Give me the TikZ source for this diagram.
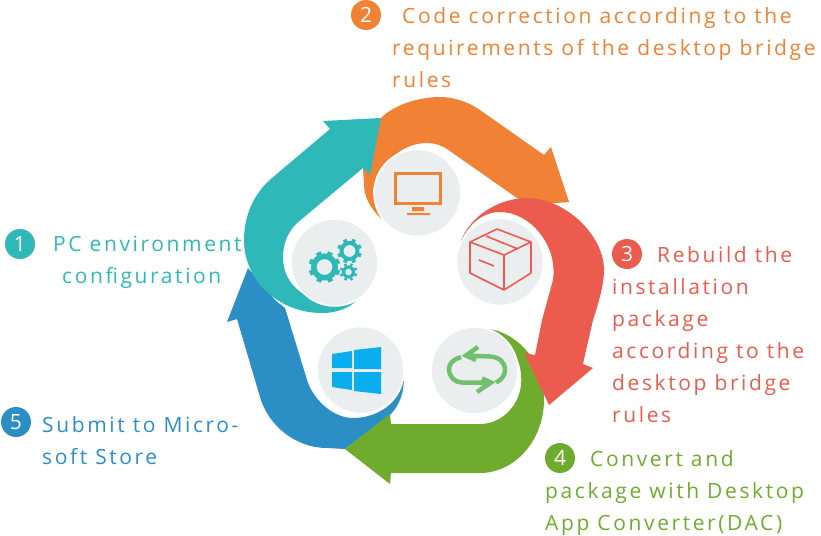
\documentclass[tikz,border=0pt]{standalone}
\usepackage{fontspec}
\setmainfont[LetterSpace=12.4]{Open Sans}
\usepackage{xcolor}
\definecolor{tealc}{HTML}{2FB8B8}
\definecolor{orangec}{HTML}{F18134}
\definecolor{redc}{HTML}{EB5B4E}
\definecolor{greenc}{HTML}{6FAC2E}
\definecolor{bluec}{HTML}{2B8FC6}
\definecolor{winc}{HTML}{0AADEE}
\definecolor{loopc}{HTML}{72BF6F}
\definecolor{discc}{HTML}{EBEEEF}
\tikzset{
  disc/.style={circle, fill=discc, draw=white, line width=1.5pt, minimum size=87pt, inner sep=0pt},
  badge/.style={circle, minimum size=30pt, inner sep=0pt, text=white, font=\fontsize{21}{21}\selectfont},
  caption/.style={anchor=north west, align=left, inner sep=0pt, font=\fontsize{21}{32}\selectfont}
}
\newcommand{\gearicon}[4]{%
  \draw[tealc, line width=#3-#4] (#1,#2) circle ({(#3+#4)/2});
  \foreach \ang in {0,45,...,315}
    \draw[tealc, line width=#3*0.38] (#1,#2) ++(\ang+22:#3-1) -- ++(\ang+22:3.4);
}

\begin{document}
\begin{tikzpicture}[x=1pt,y=-1pt]
\useasboundingbox (0,0) rectangle (821,535);
\fill[bluec] (248,268) -- (227,322) -- (237,319) -- (260,397) .. controls (268,425) and (295,448) .. (327,448)
  -- (345,449) -- (390,415) .. controls (400,405) and (404,392) .. (404,377)
  .. controls (402,400) and (380,418) .. (353,418) .. controls (335,418) and (316,403) .. (308,383)
  -- (285,308) -- (275,300) -- cycle;
\fill[greenc] (345,449) -- (390,414) -- (391,424) -- (480,424) .. controls (505,424) and (524,400) .. (521,375)
  .. controls (520,355) and (505,335) .. (487,329) .. controls (510,330) and (544,355) .. (544,400)
  .. controls (544,440) and (515,473) .. (480,473) -- (391,473) -- (390,484) -- cycle;
\fill[orangec] (381,118) .. controls (395,104) and (420,97) .. (440,97) .. controls (455,97) and (470,103) .. (480,110)
  -- (544,155) -- (551,147) -- (569,202) -- (530,205) -- (517,198) -- (447,149)
  .. controls (425,134) and (385,147) .. (373,190) .. controls (375,205) and (380,215) .. (388,224)
  .. controls (375,215) and (364,200) .. (364,185) -- (363,168) -- cycle;
\fill[redc] (460,243) .. controls (470,215) and (500,198) .. (527,198) .. controls (565,198) and (604,235) .. (604,270)
  .. controls (604,285) and (598,305) .. (593,320) -- (583,364) -- (593,368) -- (549,405) -- (524,353) -- (535,355)
  -- (542,320) -- (553,280) .. controls (558,245) and (530,212) .. (500,212) .. controls (482,212) and (468,225) .. (460,243) -- cycle;
\fill[tealc] (381,118) -- (323,121) -- (330,129) -- (272,178) .. controls (252,195) and (244,218) .. (244,240)
  .. controls (244,280) and (278,313) .. (322,313) .. controls (337,313) and (350,308) .. (358,299)
  .. controls (335,310) and (283,300) .. (283,257) .. controls (283,243) and (288,232) .. (297,223)
  -- (363,168) -- (370,175) -- cycle;
\node[disc] (gears) at (334.5,262.5) {};
\node[disc] (screen) at (417.5,193) {};
\node[disc] (box) at (500,262) {};
\node[disc] (swap) at (474.5,370.5) {};
\node[disc] (win) at (360.5,370) {};
\gearicon{324.5}{267}{13.5}{8}
\gearicon{349.5}{251}{10}{6}
\gearicon{348.5}{272}{6.5}{3.5}
\draw[orangec, line width=3pt] (395.5,173.5) rectangle (440.5,203);
\fill[orangec] (412,207) rectangle (424,211) (407,213) rectangle (430,215);
\draw[redc, line width=1.6pt, line join=round] (470,242) -- (497,229) -- (531,242) -- (504,255) -- cycle
  (470,242) -- (470,273) -- (504,290) -- (531,273) -- (531,242) (504,255) -- (504,290)
  (486,236) -- (518,249) (479,260) -- (494,266);
\draw[loopc, line width=4.5pt] (478,347) -- (466,355.5) -- (476,360) (466,355.5) -- (490,356.5) .. controls (499,357) and (505,362) .. (505,370) .. controls (505,376) and (501,380) .. (496,382.5)
  (461,357) .. controls (454,359) and (449,363) .. (449,369) .. controls (449,377) and (455,382.5) .. (462,382.5) -- (491,382.5) (482,378.5) -- (491,382.5) -- (477,392);
\fill[winc] (332,354) -- (352,351) -- (352,368) -- (332,368) -- cycle
  (354,350) -- (381,347) -- (381,369) -- (354,369) -- cycle
  (332,372) -- (352,372) -- (352,390) -- (332,387) -- cycle
  (354,372) -- (381,372) -- (381,394) -- (354,391) -- cycle;
\node[badge, fill=tealc] (n1) at (20,244) {1};
\node[badge, fill=orangec] (n2) at (366,15) {2};
\node[badge, fill=redc] (n3) at (627,254) {3};
\node[badge, fill=greenc] (n4) at (560,458) {4};
\node[badge, fill=bluec] (n5) at (16,422) {5};
\node[caption, text=tealc] (t1) at (53,236) {PC environment\\\hspace*{9pt}configuration};
\node[caption, text=orangec] (t2) at (392,7) {\hspace*{10pt}Code correction according to the\\requirements of the desktop bridge\\rules};
\node[caption, text=redc] (t3) at (612,246) {\hspace*{45pt}Rebuild the\\installation\\package\\according to the\\desktop bridge\\rules};
\node[caption, text=greenc] (t4) at (545,450) {\hspace*{45pt}Convert and\\package with Desktop\\App Converter(DAC)};
\node[caption, text=bluec] (t5) at (42,416) {Submit to Micro-\\soft Store};
\end{tikzpicture}
\end{document}
